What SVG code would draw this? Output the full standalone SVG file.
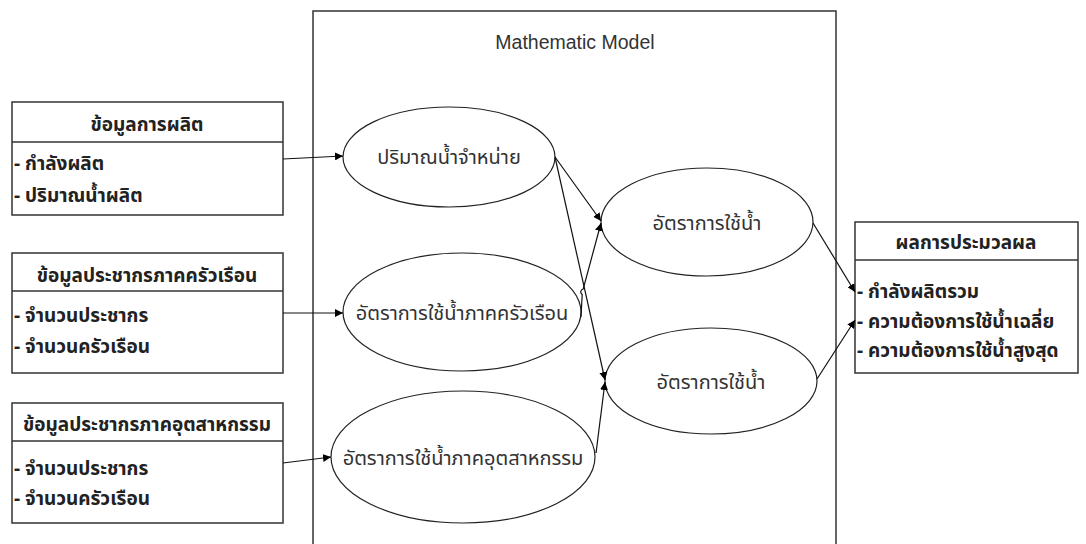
<svg xmlns="http://www.w3.org/2000/svg" width="1086" height="544" viewBox="0 0 1086 544">
<style>
.box{fill:#fff;stroke:#333;stroke-width:1.5}
.ell{fill:#fff;stroke:#222;stroke-width:1.2}
.th{font-family:Tahoma,"Noto Sans Thai","Noto Sans","DejaVu Sans",sans-serif;font-size:20px;fill:#333}
.bt{font-weight:bold;font-size:19px;fill:#222}
.en{font-family:"Liberation Sans",Arial,sans-serif;font-size:19.5px;fill:#333}
.con{fill:none;stroke:#111;stroke-width:1.2}
</style>
<defs>
<marker id="arr" viewBox="0 0 10 10" refX="10" refY="5" markerWidth="8" markerHeight="8" markerUnits="userSpaceOnUse" orient="auto">
<path d="M0,0 L10,5 L0,10 z" fill="#000"/>
</marker>
</defs>
<rect width="1086" height="544" fill="#fff"/>
<g id="frame">
<rect x="313" y="11" width="523" height="540" fill="none" stroke="#333" stroke-width="1.5"/>
<text class="en" x="575" y="49" text-anchor="middle">Mathematic Model</text>
</g>
<g id="box1">
<rect class="box" x="12" y="102" width="271" height="113"/>
<line x1="12" y1="142" x2="283" y2="142" stroke="#333" stroke-width="1.5"/>
<text class="th bt" x="147" y="131" text-anchor="middle">ข้อมูลการผลิต</text>
<text class="th bt" x="14" y="170">- กำลังผลิต</text>
<text class="th bt" x="14" y="202">- ปริมาณน้ำผลิต</text>
</g>
<g id="box2">
<rect class="box" x="12" y="253" width="271" height="120"/>
<line x1="12" y1="291" x2="283" y2="291" stroke="#333" stroke-width="1.5"/>
<text class="th bt" x="147" y="282" text-anchor="middle">ข้อมูลประชากรภาคครัวเรือน</text>
<text class="th bt" x="14" y="322">- จำนวนประชากร</text>
<text class="th bt" x="14" y="353">- จำนวนครัวเรือน</text>
</g>
<g id="box3">
<rect class="box" x="12" y="403" width="271" height="120"/>
<line x1="12" y1="441" x2="283" y2="441" stroke="#333" stroke-width="1.5"/>
<text class="th bt" x="147" y="431" text-anchor="middle">ข้อมูลประชากรภาคอุตสาหกรรม</text>
<text class="th bt" x="14" y="475">- จำนวนประชากร</text>
<text class="th bt" x="14" y="505">- จำนวนครัวเรือน</text>
</g>
<g id="ell1">
<ellipse class="ell" cx="449" cy="157" rx="106" ry="50"/>
<text class="th" x="449" y="164" text-anchor="middle">ปริมาณน้ำจำหน่าย</text>
</g>
<g id="ell2">
<ellipse class="ell" cx="462" cy="312" rx="119" ry="59"/>
<text class="th" x="462" y="320" text-anchor="middle">อัตราการใช้น้ำภาคครัวเรือน</text>
</g>
<g id="ell3">
<ellipse class="ell" cx="463" cy="457" rx="132" ry="66"/>
<text class="th" x="463" y="465" text-anchor="middle">อัตราการใช้น้ำภาคอุตสาหกรรม</text>
</g>
<g id="ell4">
<ellipse class="ell" cx="707" cy="222" rx="106" ry="54"/>
<text class="th" x="707" y="230" text-anchor="middle">อัตราการใช้น้ำ</text>
</g>
<g id="ell5">
<ellipse class="ell" cx="711" cy="381" rx="106" ry="53"/>
<text class="th" x="711" y="389" text-anchor="middle">อัตราการใช้น้ำ</text>
</g>
<g id="box4">
<rect class="box" x="855" y="222" width="223" height="151"/>
<line x1="855" y1="260" x2="1078" y2="260" stroke="#333" stroke-width="1.5"/>
<text class="th bt" x="966" y="249" text-anchor="middle">ผลการประมวลผล</text>
<text class="th bt" x="857" y="298">- กำลังผลิตรวม</text>
<text class="th bt" x="857" y="328">- ความต้องการใช้น้ำเฉลี่ย</text>
<text class="th bt" x="857" y="357">- ความต้องการใช้น้ำสูงสุด</text>
</g>
<g id="connectors">
<path class="con" d="M283,159 L343,156" marker-end="url(#arr)"/>
<path class="con" d="M283,313 L343,313" marker-end="url(#arr)"/>
<path class="con" d="M283,463 L331,457" marker-end="url(#arr)"/>
<path class="con" d="M555,157 L601,221" marker-end="url(#arr)"/>
<path class="con" d="M555,157 L605,380" marker-end="url(#arr)"/>
<path class="con" d="M581,317 L582.2,294.5 A3,3 0 0 1 583.2,289 L601,223" marker-end="url(#arr)"/>
<path class="con" d="M596,453 L605,382" marker-end="url(#arr)"/>
<path class="con" d="M813,223 L855,292" marker-end="url(#arr)"/>
<path class="con" d="M817,379 L855,320" marker-end="url(#arr)"/>
</g>
</svg>
